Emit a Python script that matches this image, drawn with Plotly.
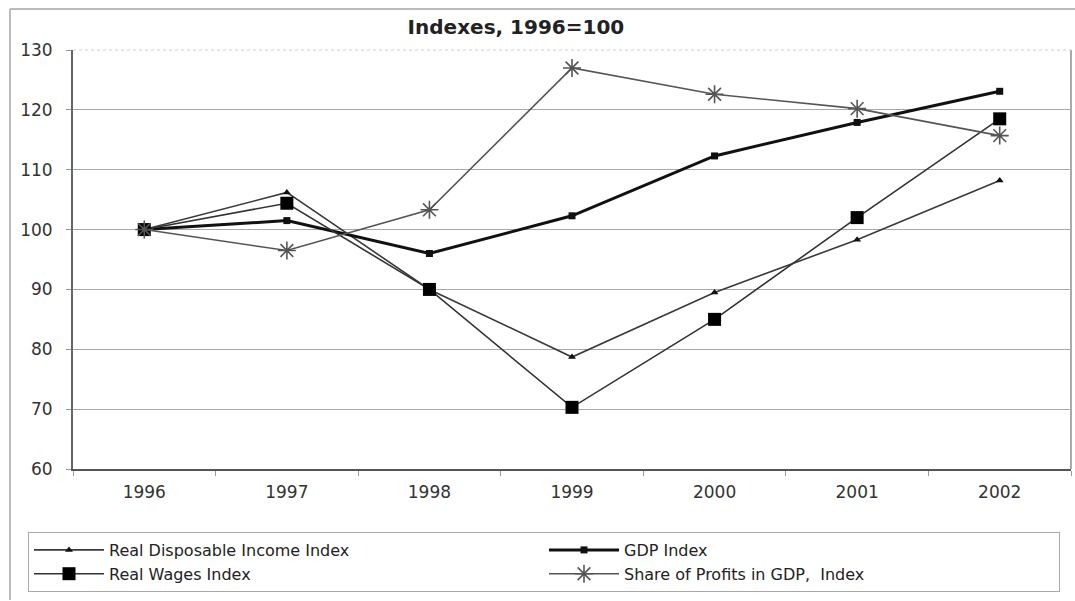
import plotly.graph_objects as go

# Index data, base year 1996 = 100
years = ["1996", "1997", "1998", "1999", "2000", "2001", "2002"]
real_disposable_income = [100.0, 106.2, 90.0, 78.7, 89.5, 98.3, 108.2]
gdp_index = [100.0, 101.5, 96.0, 102.3, 112.3, 117.9, 123.1]
real_wages = [100.0, 104.4, 90.0, 70.3, 85.0, 102.0, 118.5]
profit_share = [100.0, 96.5, 103.3, 127.0, 122.6, 120.2, 115.7]

y_ticks = [60, 70, 80, 90, 100, 110, 120, 130]

W, H = 1075, 601
L, R, T, B = 73, 4, 50, 132
PW, PH = W - L - R, H - T - B


def px(x):
    return (x - L) / PW


def py(y):
    return (H - B - y) / PH


fig = go.Figure()

fig.add_trace(go.Scatter(
    x=years, y=real_disposable_income, name="Real Disposable Income Index",
    mode="lines+markers",
    line=dict(color="#3a3a3a", width=1.6),
    marker=dict(symbol="triangle-up", size=7, color="#111"),
))
fig.add_trace(go.Scatter(
    x=years, y=gdp_index, name="GDP Index",
    mode="lines+markers",
    line=dict(color="#111", width=3),
    marker=dict(symbol="square", size=7, color="#111"),
))
fig.add_trace(go.Scatter(
    x=years, y=real_wages, name="Real Wages Index",
    mode="lines+markers",
    line=dict(color="#333", width=1.6),
    marker=dict(symbol="square", size=13, color="#000"),
))
fig.add_trace(go.Scatter(
    x=years, y=profit_share, name="Share of Profits in GDP,  Index",
    mode="lines+markers",
    line=dict(color="#555", width=1.6),
    marker=dict(symbol="asterisk-open", size=15,
                line=dict(color="#333", width=1.6)),
))

shapes = [
    # outer frame (top and left edges)
    dict(type="line", xref="paper", yref="paper", x0=px(10), x1=px(1075),
         y0=py(9), y1=py(9), line=dict(color="#bbb", width=2)),
    dict(type="line", xref="paper", yref="paper", x0=px(10), x1=px(10),
         y0=py(9), y1=py(600), line=dict(color="#bbb", width=2)),
    # right edge of the plot area
    dict(type="line", xref="paper", yref="paper", x0=1, x1=1, y0=0, y1=1,
         line=dict(color="#aaa", width=2)),
    # faint top edge of the plot area
    dict(type="line", xref="paper", yref="paper", x0=0, x1=1, y0=1, y1=1,
         line=dict(color="#ccc", width=1, dash="dot")),
]

fig.update_layout(
    width=W, height=H,
    margin=dict(l=L, r=R, t=T, b=B),
    paper_bgcolor="white", plot_bgcolor="white",
    font=dict(family="DejaVu Sans", color="#333"),
    title=dict(text="<b>Indexes, 1996=100</b>", x=px(552), xanchor="center",
               y=1 - 27 / H, yanchor="middle",
               font=dict(family="DejaVu Sans", size=20, color="#222")),
    xaxis=dict(
        type="category", range=[-0.5, 6.5],
        showgrid=False, zeroline=False,
        showline=True, linecolor="#555", linewidth=2,
        ticks="outside", tickson="boundaries", ticklen=5, tickcolor="#999",
        tickfont=dict(size=17, color="#333"), ticklabelstandoff=7,
    ),
    yaxis=dict(
        range=[60, 130], tickvals=y_ticks,
        showgrid=True, gridcolor="#a8a8a8", gridwidth=1,
        zeroline=False,
        showline=True, linecolor="#666", linewidth=2,
        ticks="outside", ticklen=5, tickcolor="#999",
        tickfont=dict(size=17, color="#333"), ticklabelstandoff=10,
    ),
    legend=dict(
        orientation="h", x=px(28), y=py(532), xanchor="left", yanchor="top",
        entrywidth=430, entrywidthmode="pixels",
        bgcolor="white", bordercolor="#aaa", borderwidth=1,
        font=dict(size=16, color="#222"), itemwidth=70,
        tracegroupgap=0,
    ),
    shapes=shapes,
    showlegend=True,
)

fig.write_html("out.html")
